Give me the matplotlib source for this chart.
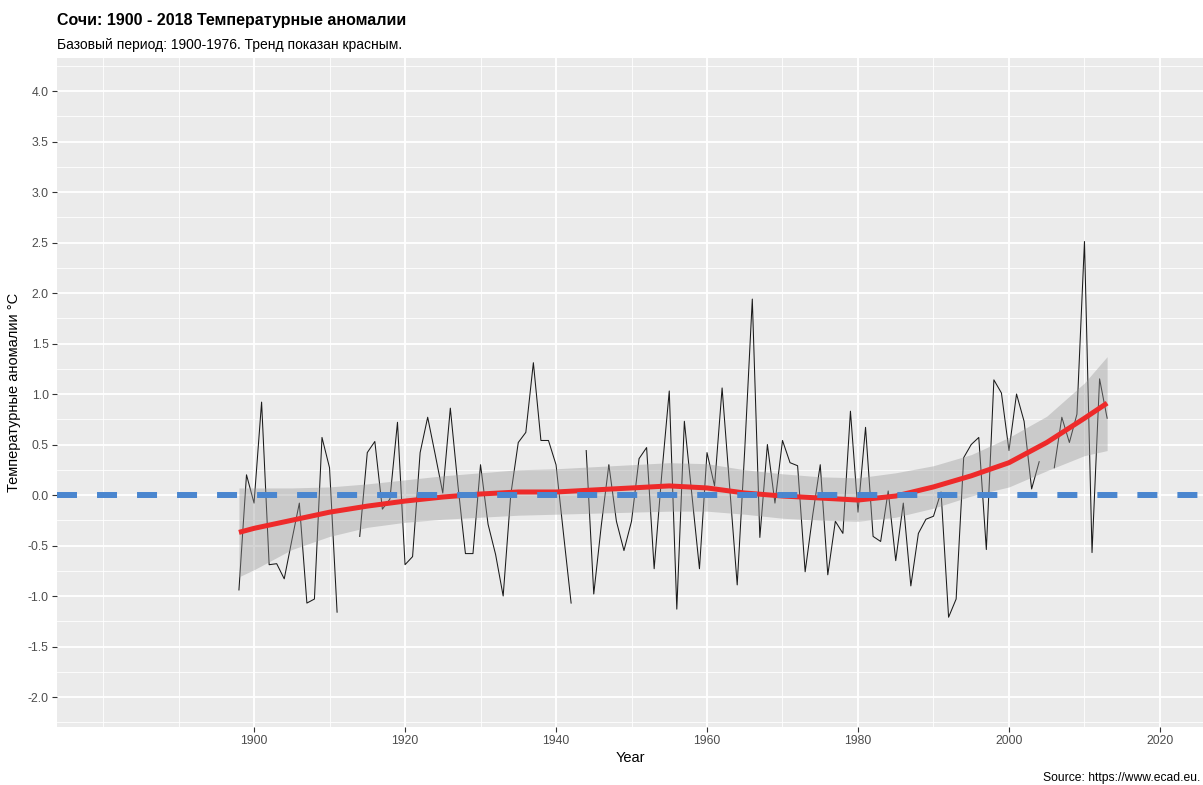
#%% Sochi temperature anomalies 1898-2013, ggplot-like look
import numpy as np
import matplotlib
matplotlib.use("Agg")
import matplotlib.pyplot as plt
from matplotlib.ticker import MultipleLocator

plt.rcParams['font.family'] = ['Liberation Sans', 'DejaVu Sans']
plt.rcParams['axes.unicode_minus'] = False

nan = np.nan

# yearly anomalies (NaN = missing year)
years = np.arange(1898, 2014)
anomaly = [
    -0.94, 0.20, -0.08, 0.92, -0.69, -0.68, -0.83, -0.45, -0.08, -1.07,   # 1898-1907
    -1.03, 0.57, 0.27, -1.16, nan, nan, -0.41, 0.42, 0.53, -0.14,         # 1908-1917
    -0.04, 0.72, -0.69, -0.61, 0.42, 0.77, 0.40, 0.02, 0.86, 0.10,        # 1918-1927
    -0.58, -0.58, 0.30, -0.29, -0.59, -1.00, 0.00, 0.52, 0.62, 1.31,      # 1928-1937
    0.54, 0.54, 0.30, -0.39, -1.07, nan, 0.44, -0.98, -0.30, 0.30,        # 1938-1947
    -0.26, -0.55, -0.26, 0.36, 0.47, -0.73, 0.20, 1.03, -1.13, 0.73,      # 1948-1957
    0.00, -0.73, 0.42, 0.09, 1.06, 0.08, -0.89, 0.45, 1.94, -0.42,        # 1958-1967
    0.50, -0.08, 0.54, 0.32, 0.29, -0.76, -0.20, 0.30, -0.79, -0.26,      # 1968-1977
    -0.38, 0.83, -0.17, 0.67, -0.41, -0.46, 0.04, -0.65, -0.08, -0.90,    # 1978-1987
    -0.38, -0.24, -0.21, 0.03, -1.21, -1.03, 0.37, 0.50, 0.57, -0.54,     # 1988-1997
    1.14, 1.01, 0.44, 1.00, 0.73, 0.06, 0.33, nan, 0.27, 0.77,            # 1998-2007
    0.52, 0.80, 2.51, -0.57, 1.15, 0.76,                                  # 2008-2013
]

# smoothed trend and its confidence band
trend_years = [1898, 1900, 1905, 1910, 1915, 1920, 1925, 1930, 1935, 1940, 1945, 1950, 1955,
               1960, 1965, 1970, 1975, 1980, 1985, 1990, 1995, 2000, 2005, 2010, 2013]
trend = [-0.37, -0.33, -0.25, -0.17, -0.11, -0.06, -0.02, 0.01, 0.03, 0.03, 0.05, 0.07, 0.09,
         0.07, 0.02, -0.01, -0.03, -0.05, -0.01, 0.08, 0.19, 0.32, 0.52, 0.76, 0.91]
trend_lo = [-0.81, -0.74, -0.54, -0.41, -0.32, -0.27, -0.24, -0.22, -0.20, -0.19, -0.18, -0.17, -0.16,
            -0.16, -0.19, -0.23, -0.25, -0.26, -0.22, -0.13, -0.01, 0.08, 0.24, 0.39, 0.44]
trend_hi = [0.07, 0.07, 0.07, 0.08, 0.11, 0.15, 0.19, 0.22, 0.25, 0.26, 0.28, 0.30, 0.32,
            0.31, 0.25, 0.21, 0.18, 0.17, 0.22, 0.29, 0.40, 0.57, 0.78, 1.11, 1.37]

x_ticks = [1900, 1920, 1940, 1960, 1980, 2000, 2020]

#%%
fig = plt.figure(figsize=(12.03, 7.85), dpi=100)
ax = fig.add_axes([57/1203, 58/785, 1146/1203, 669/785])
ax.set_facecolor('#EBEBEB')
for s in ax.spines.values():
    s.set_visible(False)

ax.plot(years, anomaly, color='#1a1a1a', linewidth=0.75, zorder=2)
ax.fill_between(trend_years, trend_lo, trend_hi, color='#999999', alpha=0.4,
                linewidth=0, zorder=3)
ax.plot(trend_years, trend, color='#EE2A2A', linewidth=3.6,
        solid_capstyle='butt', zorder=4)
ax.axhline(0, color='#4A86CF', linewidth=4.3, dashes=(3.35, 3.35),
           dash_capstyle='butt', zorder=5)

ax.set_xlim(1873.9, 2025.7)
ax.set_ylim(-2.297, 4.327)
ax.set_xticks(x_ticks)
ax.xaxis.set_minor_locator(MultipleLocator(10))
ax.yaxis.set_major_locator(MultipleLocator(0.5))
ax.yaxis.set_minor_locator(MultipleLocator(0.25))
ax.yaxis.set_major_formatter(matplotlib.ticker.FormatStrFormatter('%.1f'))

ax.grid(which='major', color='white', linewidth=1.3, zorder=0)
ax.grid(which='minor', color='white', linewidth=0.6, zorder=0)
ax.set_axisbelow(True)
ax.tick_params(which='major', length=3.5, width=0.8, color='#333333',
               labelsize=8.8, labelcolor='#4D4D4D', pad=2.5)
ax.tick_params(which='minor', length=0)

ax.set_xlabel('Year', fontsize=10.5, labelpad=3)
ax.set_ylabel('Температурные аномалии °C', fontsize=10.5, labelpad=5)

fig.text(57/1203, 1 - 20/785, 'Сочи: 1900 - 2018 Температурные аномалии',
         fontsize=11.5, fontweight='bold', va='center', ha='left')
fig.text(57/1203, 1 - 45/785, 'Базовый период: 1900-1976. Тренд показан красным.',
         fontsize=10, va='center', ha='left')
fig.text(1200/1203, 1 - 778/785, 'Source: https://www.ecad.eu.',
         fontsize=8.7, va='center', ha='right')

fig.savefig('out.png', dpi=100)
